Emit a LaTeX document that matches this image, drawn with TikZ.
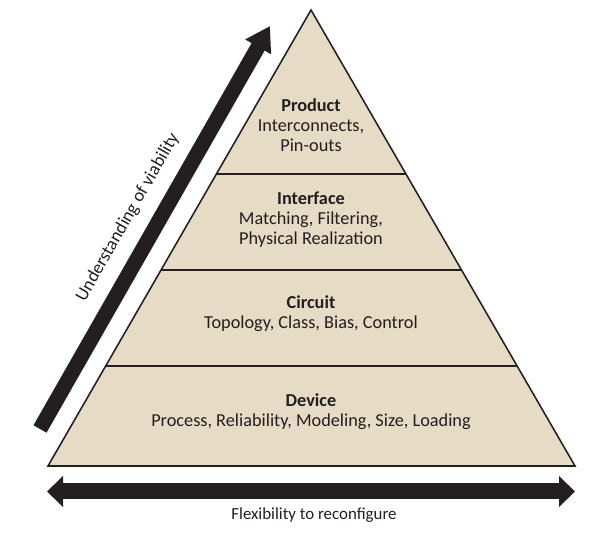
\documentclass[tikz,border=0pt]{standalone}
\usepackage{fontspec}
\setmainfont{Carlito}
\usetikzlibrary{calc}
\usetikzlibrary{arrows.meta}
\definecolor{sand}{RGB}{230,219,196}
\definecolor{ink}{RGB}{35,31,32}

\begin{document}
\begin{tikzpicture}[font=\fontsize{13pt}{14.2pt}\selectfont,
	lvl/.style={align=center, inner sep=0pt, text=ink},
	edge/.style={draw=ink, line width=1.1pt, line join=miter},
	upar/.style={ink, line width=0.375cm, -{Triangle[length=0.6cm,width=0.7cm]}},
	flexar/.style={ink, line width=0.4cm, {Triangle[length=0.4cm,width=0.75cm]}-{Triangle[length=0.4cm,width=0.75cm]}}]
\useasboundingbox (0,0) rectangle (14.875,13.375);

\coordinate (apex) at (7.775,13.125);
\coordinate (bl) at (1.2,1.725);
\coordinate (br) at (14.375,1.725);

% pyramid
\fill[sand] (apex) -- (bl) -- (br) -- cycle;
\foreach \t in {0.3596, 0.5702, 0.7807} {
\draw[edge] ($(apex)!\t!(bl)$) -- ($(apex)!\t!(br)$);
}
\draw[edge] (apex) -- (bl) -- (br) -- cycle;

% tiers
\node (product) at (7.775,10.25) [lvl] {\textbf{Product}\\Interconnects,\\Pin-outs};
\node (interface) at (7.775,7.875) [lvl] {\textbf{Interface}\\Matching, Filtering,\\Physical Realization};
\node (circuit) at (7.775,5.5375) [lvl] {\textbf{Circuit}\\Topology, Class, Bias, Control};
\node (device) at (7.775,3.075) [lvl] {\textbf{Device}\\Process, Reliability, Modeling, Size, Loading};

% arrows
\coordinate (upstart) at (1.0,2.65);
\coordinate (upend) at (6.75,12.725);
\draw[upar] (upstart) -- (upend) node (viab) [pos=0.49, sloped, above=0.33cm, inner sep=0pt, text=ink] {Understanding of viability};

\coordinate (flexl) at (1.175,1.0875);
\coordinate (flexr) at (14.375,1.0875);
\draw[flexar] (flexl) -- (flexr);
\node (flex) at (7.85,0.5) [lvl, font=\fontsize{12pt}{14pt}\selectfont] {Flexibility to reconfigure};
\end{tikzpicture}
\end{document}
